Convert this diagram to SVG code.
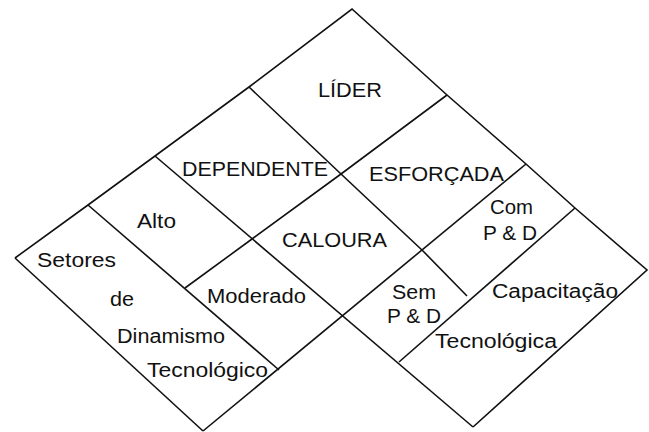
<svg xmlns="http://www.w3.org/2000/svg" width="649" height="432" viewBox="0 0 649 432">
<style>
.ln{fill:none;stroke:#111;stroke-width:1.6;stroke-linejoin:miter;stroke-linecap:butt}
.t{font-family:"Liberation Sans",Arial,Helvetica,sans-serif;font-size:20px;fill:#111}
</style>
<rect width="649" height="432" fill="#fff"/>
<g id="grid" class="ln">
<polyline class="ln" points="15,258 88,205 155,156 249,87 352,9 447,95 526,164 575,208 647,270 473,427"/>
<line class="ln" x1="15" y1="258" x2="203" y2="431"/>
<line class="ln" x1="203" y1="431" x2="526" y2="164"/>
<line class="ln" x1="155" y1="156" x2="473" y2="427"/>
<polyline class="ln" points="249,87 341,174 423,251 467,296"/>
<polyline class="ln" points="447,95 341,174 252,239 185,288"/>
<line class="ln" x1="88" y1="205" x2="279" y2="370"/>
<line class="ln" x1="575" y1="208" x2="399" y2="362"/>
</g>
<g id="lider"><text class="t" x="318" y="97" textLength="64" lengthAdjust="spacingAndGlyphs">LÍDER</text></g>
<g id="dependente"><text class="t" x="182" y="176" textLength="146" lengthAdjust="spacingAndGlyphs">DEPENDENTE</text></g>
<g id="esforcada"><text class="t" x="369" y="181" textLength="135" lengthAdjust="spacingAndGlyphs">ESFORÇADA</text></g>
<g id="caloura"><text class="t" x="282" y="247" textLength="105" lengthAdjust="spacingAndGlyphs">CALOURA</text></g>
<g id="alto"><text class="t" x="137" y="228" textLength="39" lengthAdjust="spacingAndGlyphs">Alto</text></g>
<g id="moderado"><text class="t" x="207" y="303" textLength="99" lengthAdjust="spacingAndGlyphs">Moderado</text></g>
<g id="setores">
<text class="t" x="37" y="267" textLength="79" lengthAdjust="spacingAndGlyphs">Setores</text>
<text class="t" x="110" y="306" textLength="24" lengthAdjust="spacingAndGlyphs">de</text>
<text class="t" x="117" y="343" textLength="108" lengthAdjust="spacingAndGlyphs">Dinamismo</text>
<text class="t" x="147" y="377" textLength="121" lengthAdjust="spacingAndGlyphs">Tecnológico</text>
</g>
<g id="com-pd">
<text class="t" x="490" y="214" textLength="43" lengthAdjust="spacingAndGlyphs">Com</text>
<text class="t" x="483" y="240" textLength="54" lengthAdjust="spacingAndGlyphs">P &amp; D</text>
</g>
<g id="sem-pd">
<text class="t" x="392" y="299" textLength="44" lengthAdjust="spacingAndGlyphs">Sem</text>
<text class="t" x="387" y="323" textLength="54" lengthAdjust="spacingAndGlyphs">P &amp; D</text>
</g>
<g id="capacitacao">
<text class="t" x="492" y="298" textLength="126" lengthAdjust="spacingAndGlyphs">Capacitação</text>
<text class="t" x="435" y="348" textLength="122" lengthAdjust="spacingAndGlyphs">Tecnológica</text>
</g>
</svg>
